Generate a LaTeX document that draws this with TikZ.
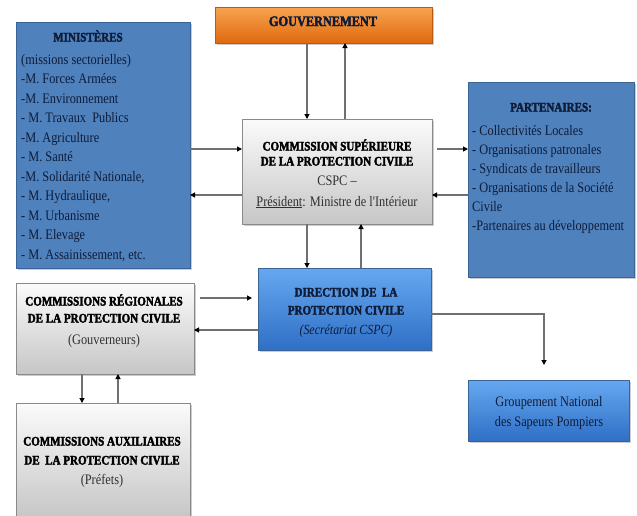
\documentclass[tikz,border=0pt]{standalone}
\usepackage{fontspec}
\setmainfont{Liberation Serif}
\newfontfamily\bodyf[FakeStretch=0.85]{Liberation Serif}
\newfontfamily\headf[FakeStretch=0.85,FakeBold=2.5,UprightFont={* Bold}]{Liberation Serif}
\usetikzlibrary{arrows.meta,shadows}
\definecolor{blueflat}{HTML}{4F81BD}
\definecolor{bluedark}{HTML}{3A6496}
\definecolor{dirtop}{HTML}{66A8F0}
\definecolor{dirbot}{HTML}{2F6FC6}
\definecolor{oratop}{HTML}{F7A450}
\definecolor{orabot}{HTML}{E0690E}
\definecolor{orabord}{HTML}{B85A14}
\definecolor{graytop}{HTML}{FBFBFB}
\definecolor{graybot}{HTML}{C6C6C6}
\definecolor{graybord}{HTML}{8A8A8A}
\definecolor{linegray}{HTML}{707070}
\definecolor{navy}{HTML}{0E1C38}
\definecolor{darktxt}{HTML}{303030}
\tikzset{
  basebox/.style={inner sep=0pt, outer sep=0pt, line width=0.8pt,
    drop shadow={shadow xshift=2pt, shadow yshift=-2pt, opacity=0.4}},
  bluebox/.style={basebox, draw=bluedark, fill=blueflat},
  dirbox/.style={basebox, draw=bluedark, top color=dirtop, bottom color=dirbot},
  orabox/.style={basebox, draw=orabord, top color=oratop, bottom color=orabot},
  graybox/.style={basebox, draw=graybord, top color=graytop, bottom color=graybot},
  arr/.style={draw=linegray, line width=1.1pt, -{Triangle[length=5pt,width=5pt,color=black]}},
  hd/.style={font=\headf\fontsize{13}{15}\selectfont, text=black, inner sep=0pt, anchor=base},
  bd/.style={font=\bodyf\fontsize{14.5}{19}\selectfont, text=navy, inner sep=0pt, anchor=base},
}
\begin{document}
\begin{tikzpicture}[x=1pt,y=-1pt]
\useasboundingbox (0,0) rectangle (637,515);
\clip (0,0) rectangle (637,515);
% boxes
\node[orabox, minimum width=217pt, minimum height=36pt] (gouv) at (323.5,25) {};
\node[bluebox, minimum width=174pt, minimum height=246pt] (min) at (103,145) {};
\node[graybox, minimum width=190pt, minimum height=105pt] (cspc) at (337,171.5) {};
\node[bluebox, minimum width=166pt, minimum height=195pt] (part) at (551,179.5) {};
\node[dirbox, minimum width=173pt, minimum height=82pt] (dir) at (344.5,309) {};
\node[graybox, minimum width=178pt, minimum height=91pt] (reg) at (105,328.5) {};
\node[graybox, minimum width=174pt, minimum height=115pt] (aux) at (103,460.5) {};
\node[dirbox, minimum width=161pt, minimum height=61pt] (gnsp) at (548.5,410.5) {};

% texts
\node[hd, font=\headf\fontsize{14.5}{15}\selectfont, text=navy] (gouvt) at (323,26) {GOUVERNEMENT};

\node[hd, text=navy] (minh) at (88,41.5) {MINISTÈRES};
\foreach \t [count=\i from 0] in {{(missions sectorielles)},{-M. Forces Armées},{-M. Environnement},{- M. Travaux\ \ Publics},{-M. Agriculture},{- M. Santé},{-M. Solidarité Nationale,},{- M. Hydraulique,},{- M. Urbanisme},{- M. Elevage},{- M. Assainissement, etc.}}
  \node[bd, anchor=base west] (minl\i) at (21,64+19.5*\i) {\t};

\node[hd] (cspch1) at (337,150.5) {COMMISSION SUPÉRIEURE};
\node[hd] (cspch2) at (337,165.5) {DE LA PROTECTION CIVILE};
\node[bd, text=darktxt] (cspcb1) at (337,185) {CSPC –};
\node[bd, text=darktxt] (cspcb2) at (337,206) {\underline{Président}: Ministre de l'Intérieur};

\node[hd, text=navy] (parth) at (551,111.5) {PARTENAIRES:};
\foreach \t [count=\i from 0] in {{- Collectivités Locales},{- Organisations patronales},{- Syndicats de travailleurs},{- Organisations de la Société},{Civile},{-Partenaires au développement}}
  \node[bd, anchor=base west] (partl\i) at (472,135+19*\i) {\t};

\node[hd, text=navy] (dirh1) at (346,296.5) {DIRECTION DE\ \ LA};
\node[hd, text=navy] (dirh2) at (346,314.5) {PROTECTION CIVILE};
\node[bd, font=\bodyf\itshape\fontsize{14}{19}\selectfont] (dirb) at (346,334) {(Secrétariat CSPC)};

\node[hd] (regh1) at (104,305.5) {COMMISSIONS RÉGIONALES};
\node[hd] (regh2) at (104,322.5) {DE LA PROTECTION CIVILE};
\node[bd, text=darktxt] (regb) at (104,344) {(Gouverneurs)};

\node[hd] (auxh1) at (102,445.5) {COMMISSIONS AUXILIAIRES};
\node[hd] (auxh2) at (102,464.5) {DE\ \ LA PROTECTION CIVILE};
\node[bd, text=darktxt] (auxb) at (102,484) {(Préfets)};

\node[bd] (gnsp1) at (549,406) {Groupement National};
\node[bd] (gnsp2) at (549,426) {des Sapeurs Pompiers};

% connectors
\draw[arr] (gouv.south -| 307,0) -- (cspc.north -| 307,0);
\draw[arr] (cspc.north -| 345,0) -- (gouv.south -| 345,0);
\draw[arr] (min.east |- 0,149) -- (cspc.west |- 0,149);
\draw[arr] (cspc.west |- 0,195) -- (min.east |- 0,195);
\draw[arr, shorten <=5pt] (cspc.east |- 0,149) -- (part.west |- 0,149);
\draw[arr] (part.west |- 0,195) -- (cspc.east |- 0,195);
\draw[arr] (cspc.south -| 307,0) -- (dir.north -| 307,0);
\draw[arr] (dir.north -| 361,0) -- (cspc.south -| 361,0);
\draw[arr, shorten <=6pt, shorten >=6pt] (reg.east |- 0,298) -- (dir.west |- 0,298);
\draw[arr] (dir.west |- 0,330) -- (reg.east |- 0,330);
\draw[arr, shorten >=15pt] (dir.east |- 0,314) -| (gnsp.north -| 544,0);
\draw[arr] (reg.south -| 82,0) -- (aux.north -| 82,0);
\draw[arr] (aux.north -| 118,0) -- (reg.south -| 118,0);
\end{tikzpicture}
\end{document}
